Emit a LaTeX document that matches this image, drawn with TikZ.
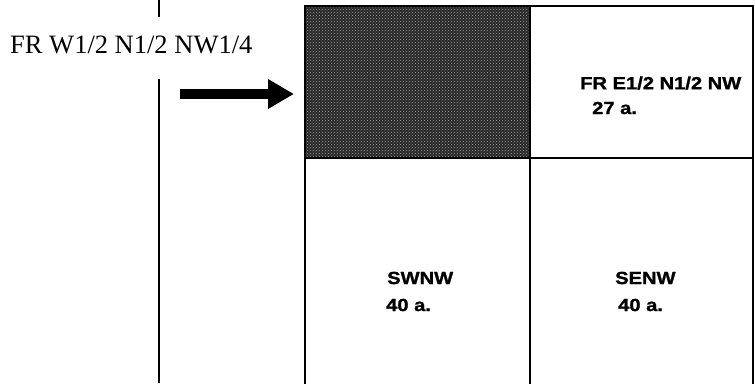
\documentclass[tikz,border=0pt]{standalone}
\usepackage{fontspec}
\setmainfont{Liberation Serif}
\newfontfamily\lblfont[FakeStretch=1.15, BoldFeatures={FakeBold=1.2}]{Liberation Sans}
\usetikzlibrary{patterns,arrows.meta}
\tikzset{
  cell/.style={draw=black, line width=1.2pt, minimum width=225pt, minimum height=152pt, inner sep=0pt, outer sep=0pt},
  celltext/.style={font=\lblfont\bfseries\fontsize{17.5}{23}\selectfont, align=left, inner sep=0pt},
  rule/.style={line width=1.4pt},
}
\begin{document}
\begin{tikzpicture}[x=1pt,y=-1pt]
\useasboundingbox (0,0) rectangle (755,383);
% grid cells
\node[cell, anchor=north west, fill=black!85] (nw) at (305,6) {};
\fill[pattern=crosshatch dots, pattern color=white!65!black] (nw.north west) rectangle (nw.south east);
\draw[line width=1.2pt] (nw.north west) rectangle (nw.south east);
\node[cell, anchor=north west, minimum width=223pt] (ne) at (530,6) {};
\node[cell, anchor=north west, minimum height=226pt, draw=none] (sw) at (305,158) {};
\node[cell, anchor=north west, minimum width=223pt, minimum height=226pt, draw=none] (se) at (530,158) {};
\draw[line width=1.2pt] (sw.south west) -- (sw.north west) -- (sw.north east) -- (sw.south east);
\draw[line width=1.2pt] (se.north east) -- (se.south east);
% labels
\node[celltext, anchor=west] (t1) at (580,83) {FR E1/2 N1/2 NW};
\node[celltext, anchor=west] (t1b) at (592,108) {27 a.};
\node[celltext, anchor=west] (t2) at (387,278) {SWNW};
\node[celltext, anchor=west] (t2b) at (386,305) {40 a.};
\node[celltext, anchor=west] (t3) at (615,278) {SENW};
\node[celltext, anchor=west] (t3b) at (618,305) {40 a.};
% left vertical rule with title gap
\coordinate (vtop) at (159,0);
\coordinate (vgap1) at (159,17);
\coordinate (vgap2) at (159,79);
\coordinate (vbot) at (159,383);
\draw[rule] (vtop) -- (vgap1);
\draw[rule] (vgap2) -- (vbot);
\node[anchor=base west, inner sep=0pt, font=\fontsize{26.5}{30}\selectfont] (title) at (10,53) {FR W1/2 N1/2 NW1/4};
% arrow
\coordinate (astart) at (180,94);
\coordinate (aend) at (294,94);
\draw[line width=9.5pt, -{Triangle[length=26pt,width=28pt]}] (astart) -- (aend);
\end{tikzpicture}
\end{document}
